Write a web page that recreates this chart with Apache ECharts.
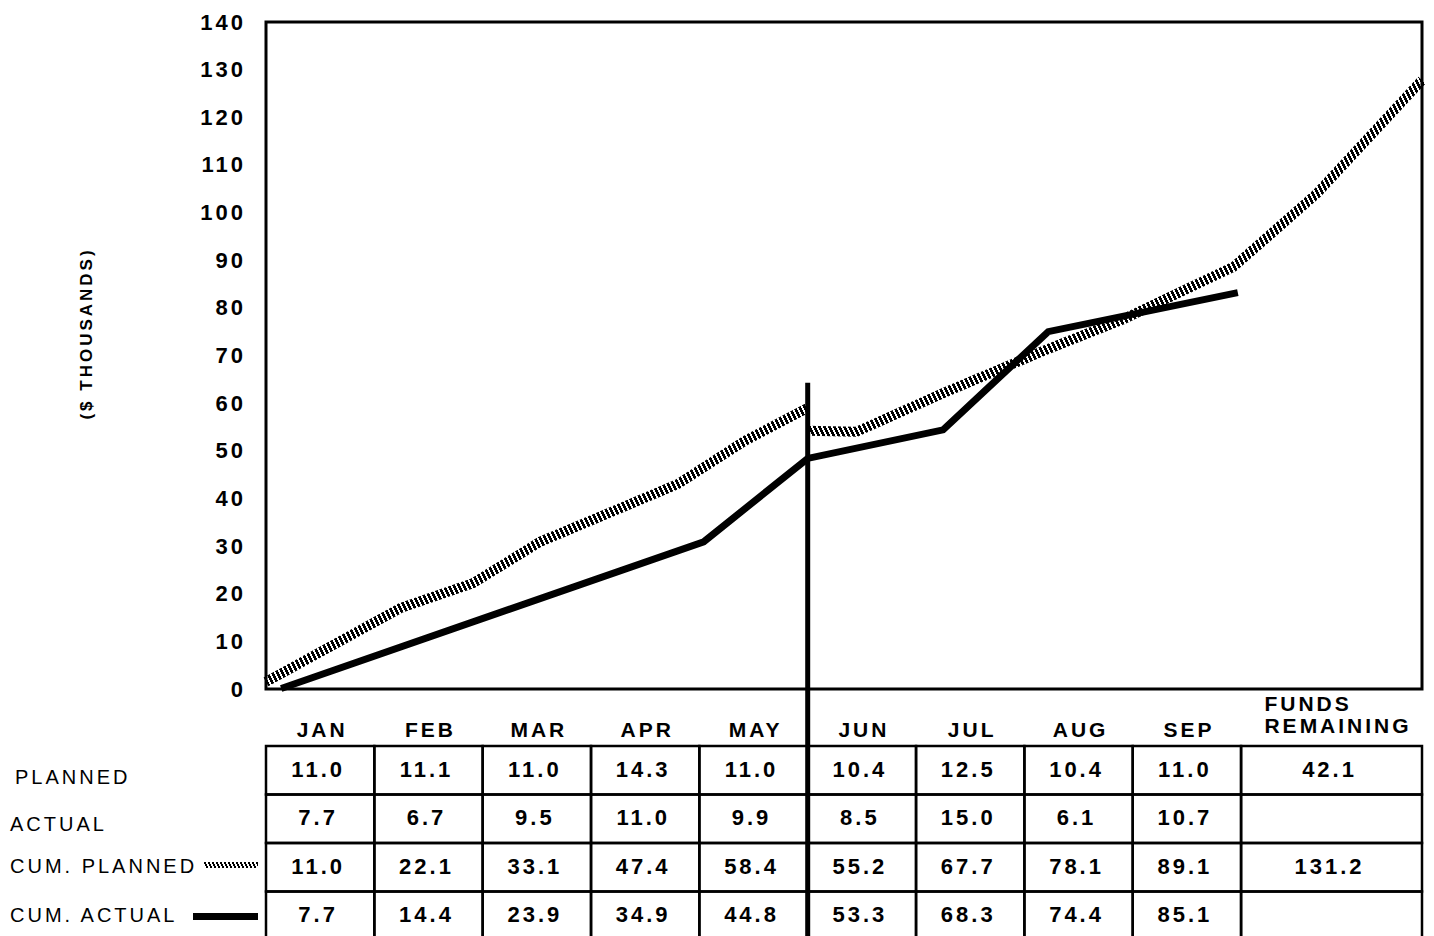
<!DOCTYPE html>
<html><head><meta charset="utf-8">
<script src="https://cdn.jsdelivr.net/npm/echarts@6/dist/echarts.min.js"></script>
<style>
html,body{margin:0;padding:0;background:#fff;}
#chart{width:1434px;height:936px;background:#fff;}
#chart text{letter-spacing:3px;}
#chart image{image-rendering:pixelated;}
</style></head><body><div id="chart"></div>
<script>
// ---------------- data ----------------
const columns    = ['JAN','FEB','MAR','APR','MAY','JUN','JUL','AUG','SEP','FUNDS\nREMAINING'];
const rowLabels  = ['PLANNED','ACTUAL','CUM. PLANNED','CUM. ACTUAL'];
const planned    = [11.0, 11.1, 11.0, 14.3, 11.0, 10.4, 12.5, 10.4, 11.0, 42.1];
const actual     = [7.7, 6.7, 9.5, 11.0, 9.9, 8.5, 15.0, 6.1, 10.7, null];
const cumPlanned = [11.0, 22.1, 33.1, 47.4, 58.4, 55.2, 67.7, 78.1, 89.1, 131.2];
const cumActual  = [7.7, 14.4, 23.9, 34.9, 44.8, 53.3, 68.3, 74.4, 85.1, null];
const yMin = 0, yMax = 140, yStep = 10;
const monthSpan = 10.67;          // 9 months + width of the FUNDS REMAINING column, in months
const yTitle = '($ THOUSANDS)';
// plotted curves as drawn in the picture: [position in months, $ thousands]
const cumPlannedToMay   = [[0,1.5],[1.24,17.0],[1.91,22.2],[2.53,30.9],[3.80,43.0],[4.42,52.1],[5.0,59.0]];
const cumPlannedFromJun = [[5.0,54.2],[5.45,54.0],[6.25,62.1],[7.17,70.9],[7.91,77.6],[8.93,88.6],[9.70,104.0],[10.67,127.8]];
const cumActualLine     = [[0.14,0.1],[4.04,30.9],[5.0,48.4],[6.25,54.4],[7.22,75.0],[8.97,83.2]];
const statusLine        = [[5.0, 64.3]];

// ---------------- helpers ----------------
const FONT = '"Liberation Sans", Arial, Helvetica, sans-serif';
function hatchCanvas(w, h, period, dark) {
  const c = document.createElement('canvas'); c.width = w; c.height = h;
  const ctx = c.getContext('2d'); ctx.fillStyle = '#000';
  for (let y = 0; y < h; y++) {
    const s = Math.floor(y / 2);
    for (let x = 0; x < w; x++) {
      const k = ((x - s) % period + period) % period;
      if (k < dark) ctx.fillRect(x, y, 1, 1);
    }
  }
  return c;
}
const tile = hatchCanvas(5, 10, 5, 3);
const hatch = { image: tile, repeat: 'repeat', imageWidth: 5, imageHeight: 10 };
const sampleURL = hatchCanvas(54, 6, 4, 2).toDataURL();

const rowsData = [planned, actual, cumPlanned, cumActual];
const cells = [];
rowsData.forEach((arr, r) => arr.forEach((v, c) => {
  cells.push({ col: c, row: r, text: v == null ? '' : v.toFixed(1) });
}));

function colEnd(c) { return c === columns.length - 1 ? monthSpan : c + 1; }

const chart = echarts.init(document.getElementById('chart'), null, { renderer: 'svg' });
chart.setOption({
  animation: false,
  backgroundColor: '#fff',
  grid: [
    { left: 266, top: 22, right: 12, bottom: 247, show: true, borderColor: '#000', borderWidth: 3,
      backgroundColor: 'transparent', containLabel: false, outerBoundsMode: 'none' },
    { left: 266, right: 12, top: 746, height: 194, show: false, containLabel: false, outerBoundsMode: 'none' }
  ],
  xAxis: [
    { type: 'value', gridIndex: 0, min: 0, max: monthSpan, show: false },
    { type: 'value', gridIndex: 1, min: 0, max: monthSpan, show: false }
  ],
  yAxis: [
    { type: 'value', gridIndex: 0, min: yMin, max: yMax, interval: yStep,
      axisLine: { show: false }, axisTick: { show: false }, splitLine: { show: false },
      axisLabel: { color: '#000', fontWeight: 'bold', fontSize: 22, fontFamily: FONT, margin: 20 },
      name: yTitle, nameLocation: 'middle', nameGap: 171,
      nameTextStyle: { color: '#000', fontWeight: 'bold', fontSize: 17, fontFamily: FONT, padding: [0, 0, 0, 44] } },
    { type: 'category', gridIndex: 1, data: rowLabels, inverse: true,
      axisLine: { show: false }, axisTick: { show: false }, splitLine: { show: false },
      axisLabel: { interval: 0, align: 'left', margin: 256,
        formatter: v => v === 'PLANNED' ? '{p|' + v + '}' : (v === 'ACTUAL' ? '{a|' + v + '}' : '{n|' + v + '}'),
        rich: {
          p: { color: '#000', fontSize: 20, fontFamily: FONT, padding: [13, 0, 0, 5] },
          a: { color: '#000', fontSize: 20, fontFamily: FONT, padding: [11, 0, 0, 0] },
          n: { color: '#000', fontSize: 20, fontFamily: FONT, padding: [0, 0, 2, 0] }
        } } }
  ],
  legend: [
    { data: ['CUM. PLANNED'], left: 204, top: 862, itemWidth: 54, itemHeight: 6, padding: 0, itemGap: 0,
      icon: 'image://' + sampleURL, formatter: () => '', selectedMode: false, textStyle: { fontSize: 1 } },
    { data: ['CUM. ACTUAL'], left: 193, top: 913, itemWidth: 65, itemHeight: 7, padding: 0, itemGap: 0,
      icon: 'rect', itemStyle: { color: '#000' }, formatter: () => '', selectedMode: false, textStyle: { fontSize: 1 } }
  ],
  series: [
    { name: 'CUM. PLANNED', type: 'line', xAxisIndex: 0, yAxisIndex: 0, data: cumPlannedToMay,
      symbol: 'none', silent: true, z: 2, itemStyle: { color: '#000' },
      lineStyle: { color: hatch, width: 10, cap: 'butt', join: 'miter' }, emphasis: { disabled: true } },
    { name: 'CUM. PLANNED', type: 'line', xAxisIndex: 0, yAxisIndex: 0, data: cumPlannedFromJun,
      symbol: 'none', silent: true, z: 2, itemStyle: { color: '#000' },
      lineStyle: { color: hatch, width: 10, cap: 'butt', join: 'miter' }, emphasis: { disabled: true } },
    { name: 'CUM. ACTUAL', type: 'line', xAxisIndex: 0, yAxisIndex: 0, data: cumActualLine,
      symbol: 'none', silent: true, z: 3, itemStyle: { color: '#000' },
      lineStyle: { color: '#000', width: 7, cap: 'butt', join: 'miter' }, emphasis: { disabled: true } },
    { type: 'custom', xAxisIndex: 0, yAxisIndex: 0, data: statusLine, clip: false, silent: true, z: 10,
      renderItem: (params, api) => {
        const p = api.coord([api.value(0), api.value(1)]);
        return { type: 'line', shape: { x1: p[0], y1: p[1], x2: p[0], y2: api.getHeight() },
                 style: { stroke: '#000', lineWidth: 5 } };
      } },
    { type: 'custom', xAxisIndex: 1, yAxisIndex: 1, clip: false, silent: true, z: 4,
      encode: { x: 0, y: 1 },
      data: cells.map(c => [c.col, c.row]),
      renderItem: (params, api) => {
        const cell = cells[params.dataIndex];
        const a = api.coord([cell.col, cell.row]);
        const b = api.coord([colEnd(cell.col), cell.row]);
        const h = api.size([0, 1])[1];
        return { type: 'group', children: [
          { type: 'rect', shape: { x: a[0], y: a[1] - h / 2, width: b[0] - a[0], height: h },
            style: { fill: 'none', stroke: '#000', lineWidth: 2.5 } },
          { type: 'text', x: (a[0] + b[0]) / 2 - 2, y: a[1] - 1,
            style: { text: cell.text, fill: '#000', font: 'bold 22px ' + FONT, align: 'center', verticalAlign: 'middle' } }
        ] };
      } },
    { type: 'custom', xAxisIndex: 1, yAxisIndex: 1, clip: false, silent: true, z: 4,
      encode: { x: 0, y: 1 },
      data: columns.map((m, i) => [i, 0]),
      renderItem: (params, api) => {
        const c = params.dataIndex;
        const a = api.coord([c, 0]);
        const b = api.coord([colEnd(c), 0]);
        const top = a[1] - api.size([0, 1])[1] / 2;
        const label = columns[c];
        if (label.indexOf('\n') >= 0) {
          const parts = label.split('\n');
          return { type: 'text', x: (a[0] + b[0]) / 2 - 7, y: top - 32,
            style: { text: parts.map(s => '{h|' + s + '}').join('\n'), align: 'center', verticalAlign: 'middle',
              rich: { h: { align: 'left', fill: '#000', font: 'bold 21px ' + FONT, lineHeight: 22 } } } };
        }
        return { type: 'text', x: (a[0] + b[0]) / 2 + 2, y: top - 17,
          style: { text: label, fill: '#000', font: 'bold 21px ' + FONT, align: 'center', verticalAlign: 'middle' } };
      } }
  ]
});
</script></body></html>
